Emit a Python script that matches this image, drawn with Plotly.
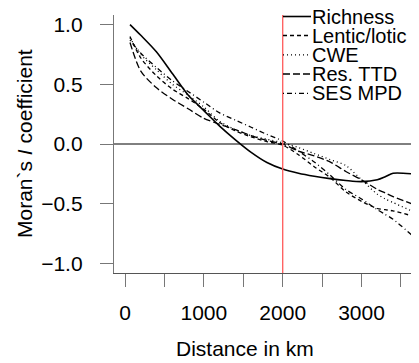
import plotly.graph_objects as go

# distance classes (km)
distance_km = [63, 200, 400, 600, 800, 1000, 1200, 1400, 1600, 1800, 2000,
               2200, 2400, 2600, 2800, 3000, 3200, 3300, 3400, 3633]

richness =     [1.00, 0.91, 0.77, 0.59, 0.41, 0.28, 0.15, 0.035, -0.07, -0.155, -0.21,
                -0.245, -0.27, -0.29, -0.305, -0.315, -0.30, -0.275, -0.245, -0.25]
lentic_lotic = [0.90, 0.72, 0.57, 0.46, 0.38, 0.29, 0.18, 0.11, 0.06, 0.02, -0.01,
                -0.09, -0.19, -0.28, -0.40, -0.48, -0.54, -0.55, -0.56, -0.60]
cwe =          [0.89, 0.75, 0.62, 0.50, 0.41, 0.31, 0.19, 0.12, 0.07, 0.04, 0.01,
                -0.03, -0.08, -0.13, -0.18, -0.30, -0.42, -0.46, -0.49, -0.56]
res_ttd =      [0.85, 0.61, 0.47, 0.375, 0.295, 0.215, 0.165, 0.12, 0.07, 0.03, 0.0,
                -0.06, -0.10, -0.15, -0.23, -0.30, -0.38, -0.41, -0.44, -0.50]
ses_mpd =      [0.87, 0.76, 0.64, 0.53, 0.44, 0.35, 0.26, 0.20, 0.14, 0.08, 0.025,
                -0.06, -0.15, -0.26, -0.38, -0.46, -0.55, -0.59, -0.63, -0.76]

series_names = ["Richness", "Lentic/lotic", "CWE", "Res. TTD", "SES MPD"]
series_values = [richness, lentic_lotic, cwe, res_ttd, ses_mpd]
dashes = ["solid", "4px,3px", "1px,3px", "7px,3px", "1px,3px,5px,3px"]
widths = [1.6, 1.3, 1.3, 1.3, 1.3]

x_ticks = [0, 500, 1000, 1500, 2000, 2500, 3000, 3500]
x_ticktext = ["0", "", "1000", "", "2000", "", "3000", ""]
y_ticks = [-1.0, -0.5, 0.0, 0.5, 1.0]
y_ticktext = ["\u22121.0", "\u22120.5", "0.0", "0.5", "1.0"]
threshold_km = 2000

FONT = "Liberation Sans, Arial, Helvetica, sans-serif"
FS = 21
LEG_FS = 20

fig = go.Figure()
for name, vals, d, w in zip(series_names, series_values, dashes, widths):
    fig.add_trace(go.Scatter(x=distance_km, y=vals, mode="lines", name=name,
                             line=dict(color="black", dash=d, width=w,
                                       shape="spline", smoothing=0.8),
                             showlegend=False))

# target plot area geometry (px in the 419x363 window); page body has an 8px offset
OFF = 8
L, R, T, B = 114, 412, 15, 273
W, H = 419 - OFF, 363 - OFF
def px_x(p): return (p - L) / (R - L)
def px_y(p): return (B - p) / (B - T)

shapes = [
    dict(type="line", xref="paper", yref="y", x0=0, x1=1, y0=0, y1=0,
         line=dict(color="black", width=1)),
    dict(type="line", xref="x", yref="paper", x0=threshold_km, x1=threshold_km,
         y0=0, y1=1, line=dict(color="#ff5a5a", width=1.3)),
]
annotations = []
legend_rows = [16.5, 35.5, 54.8, 74, 93.3]
for name, d, w, ry in zip(series_names, dashes, widths, legend_rows):
    shapes.append(dict(type="line", xref="paper", yref="paper",
                       x0=px_x(283), x1=px_x(311), y0=px_y(ry), y1=px_y(ry),
                       line=dict(color="black", dash=d, width=w)))
    annotations.append(dict(text=name, xref="paper", yref="paper",
                            x=px_x(311), y=px_y(ry), xanchor="left", yanchor="middle",
                            showarrow=False, borderpad=0,
                            font=dict(family=FONT, size=LEG_FS, color="black")))

annotations.append(dict(text="Moran`s <i>I</i> coefficient", xref="paper", yref="paper",
                        x=px_x(24), y=px_y(144), xanchor="center", yanchor="middle",
                        textangle=-90, showarrow=False,
                        font=dict(family=FONT, size=FS, color="black")))
annotations.append(dict(text="Distance in km", xref="paper", yref="paper",
                        x=px_x(245), y=px_y(348), xanchor="center", yanchor="middle",
                        showarrow=False, font=dict(family=FONT, size=FS, color="black")))

fig.update_layout(
    width=W, height=H,
    margin=dict(l=L - OFF, r=W - (R - OFF), t=T - OFF, b=H - (B - OFF), pad=0,
                autoexpand=False),
    plot_bgcolor="white", paper_bgcolor="white",
    font=dict(family=FONT, size=FS, color="black"),
    shapes=shapes, annotations=annotations,
    xaxis=dict(range=[-140, 3640], tickvals=x_ticks, ticktext=x_ticktext,
               automargin=False,
               showgrid=False, zeroline=False, showline=True, linecolor="#555555",
               linewidth=1.3, ticks="outside", ticklen=13, tickcolor="#777777",
               tickwidth=1.3, ticklabelstandoff=8,
               tickfont=dict(family=FONT, size=FS, color="black")),
    yaxis=dict(range=[-1.08, 1.08], tickvals=y_ticks, ticktext=y_ticktext,
               automargin=False,
               showgrid=False, zeroline=False, showline=True, linecolor="#777777",
               linewidth=1.3, ticks="outside", ticklen=13, tickcolor="#777777",
               tickwidth=1.3, ticklabelstandoff=13,
               tickfont=dict(family=FONT, size=FS, color="black")),
)

fig.write_html("out.html")
